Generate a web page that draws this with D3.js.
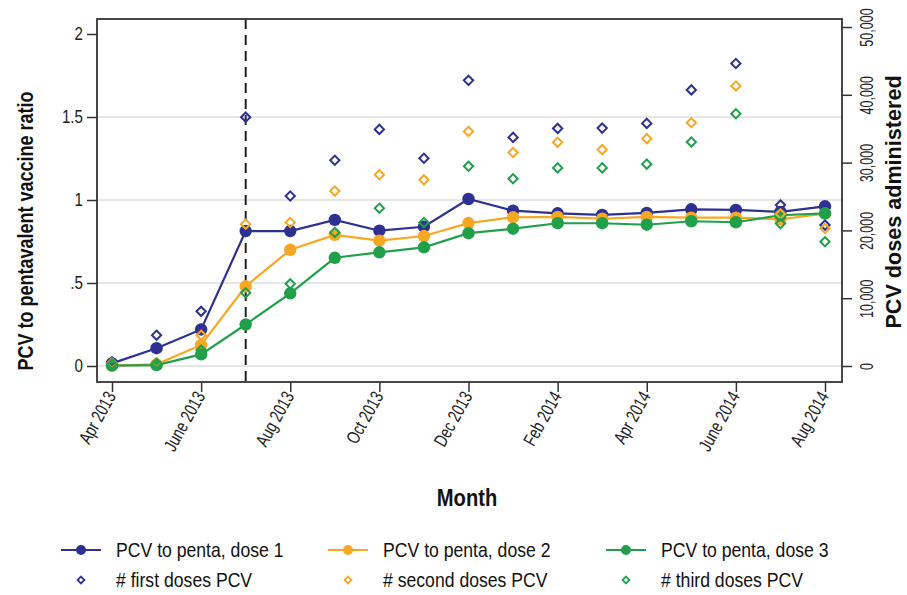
<!DOCTYPE html>
<html><head><meta charset="utf-8">
<script src="https://cdn.jsdelivr.net/npm/d3@7/dist/d3.min.js"></script>
<style>
html,body{margin:0;padding:0;background:#fff;}
svg{display:block;font-family:"Liberation Sans",Arial,"DejaVu Sans",sans-serif;}
</style></head>
<body><svg id="c" width="907" height="595"></svg>
<script>
const months = ["Apr 2013","May 2013","June 2013","Jul 2013","Aug 2013","Sep 2013","Oct 2013","Nov 2013","Dec 2013","Jan 2014","Feb 2014","Mar 2014","Apr 2014","May 2014","June 2014","Jul 2014","Aug 2014"];
const tickMonths = ["Apr 2013","June 2013","Aug 2013","Oct 2013","Dec 2013","Feb 2014","Apr 2014","June 2014","Aug 2014"];
const ratioDose1 = [0.016,0.107,0.22,0.813,0.813,0.88,0.815,0.839,1.006,0.936,0.92,0.91,0.922,0.944,0.94,0.928,0.962];
const ratioDose2 = [0.003,0.01,0.127,0.48,0.70,0.79,0.755,0.783,0.861,0.896,0.898,0.887,0.898,0.894,0.894,0.884,0.918];
const ratioDose3 = [0.002,0.005,0.07,0.25,0.438,0.652,0.685,0.715,0.80,0.827,0.86,0.86,0.851,0.872,0.866,0.908,0.92];
const firstDoses = [630,4545,8065,36700,25070,30350,34900,30645,42130,33720,35040,35090,35780,40720,44620,23750,20780];
const secondDoses = [440,500,4545,20920,21160,25800,28200,27460,34600,31480,32990,31920,33530,35880,41300,22430,20280];
const thirdDoses = [300,400,2350,10800,12130,19700,23270,21160,29470,27610,29220,29220,29770,33040,37200,21000,18330];
const leftTicks = [0,0.5,1,1.5,2];
const leftTickLabels = ["0",".5","1","1.5","2"];
const rightTicks = [0,10000,20000,30000,40000,50000];
const introMonth = "Jul 2013";

const colors = {d1:"#2e3192", d2:"#f7a823", d3:"#21a04c"};
const svg = d3.select("#c");
const L = 97, R = 842, T = 19, B = 382;

const x = d3.scalePoint().domain(months).range([112, 825]);
const yL = d3.scaleLinear().domain([0,2]).range([366, 34]);
const yR = d3.scaleLinear().domain([0,50000]).range([366, 27]);

// gridlines
svg.append("g").selectAll("line").data(leftTicks.filter(d=>d<2)).join("line")
  .attr("x1",L).attr("x2",R).attr("y1",d=>yL(d)).attr("y2",d=>yL(d))
  .attr("stroke","#dedede").attr("stroke-width",1.5);

// dashed vertical line
svg.append("line").attr("x1",x(introMonth)).attr("x2",x(introMonth)).attr("y1",T).attr("y2",B)
  .attr("stroke","#222").attr("stroke-width",2).attr("stroke-dasharray","10,6");

// axes
const axL = svg.append("g").attr("transform",`translate(${L},0)`)
  .call(d3.axisLeft(yL).tickValues(leftTicks).tickFormat((d,i)=>leftTickLabels[i]).tickSize(10).tickPadding(4));
const axR = svg.append("g").attr("transform",`translate(${R},0)`)
  .call(d3.axisRight(yR).tickValues(rightTicks).tickFormat(d3.format(",")).tickSize(10).tickPadding(4));
const axB = svg.append("g").attr("transform",`translate(0,${B})`)
  .call(d3.axisBottom(x).tickValues(tickMonths).tickSize(10).tickPadding(4));
[axL,axR,axB].forEach(g=>{
  g.select(".domain").remove();
  g.selectAll(".tick line").attr("stroke","#333").attr("stroke-width",1.5);
  g.selectAll("text").attr("fill","#222").style("font-size","18.5px").style("font-family","inherit");
});
axL.selectAll("text").attr("x",0).attr("transform","translate(-14,0) scale(0.82,1)");
axR.selectAll("text").attr("x",0).attr("y",25).attr("dy","0.35em").attr("text-anchor","middle")
  .attr("transform","rotate(-90) scale(0.68,1)");
axB.selectAll("text").attr("text-anchor","end").attr("dy","0").attr("y",0).attr("x",0)
  .attr("transform","translate(4,14) rotate(-61) scale(0.75,1)");

// frame
svg.append("rect").attr("x",L).attr("y",T).attr("width",R-L).attr("height",B-T)
  .attr("fill","none").attr("stroke","#333").attr("stroke-width",1.8);

// axis titles
svg.append("text").attr("transform",`translate(33,231) rotate(-90) scale(0.8,1)`)
  .attr("text-anchor","middle").style("font-size","22.5px").style("font-weight","bold").attr("fill","#111")
  .text("PCV to pentavalent vaccine ratio");
svg.append("text").attr("transform",`translate(901,202) rotate(-90) scale(0.96,1)`)
  .attr("text-anchor","middle").style("font-size","22.5px").style("font-weight","bold").attr("fill","#111")
  .text("PCV doses administered");
svg.append("text").attr("transform","translate(467,506) scale(0.84,1)").attr("text-anchor","middle")
  .style("font-size","24px").style("font-weight","bold").attr("fill","#111").text("Month");

// series
const lineSeries = [
  {vals:ratioDose1,c:colors.d1},
  {vals:ratioDose2,c:colors.d2},
  {vals:ratioDose3,c:colors.d3}
];
const line = d3.line().x((d,i)=>x(months[i])).y(d=>yL(d));
lineSeries.forEach(s=>{
  svg.append("path").datum(s.vals).attr("d",line).attr("fill","none").attr("stroke",s.c).attr("stroke-width",2.2);
  svg.append("g").selectAll("circle").data(s.vals).join("circle")
    .attr("cx",(d,i)=>x(months[i])).attr("cy",d=>yL(d)).attr("r",6.2).attr("fill",s.c);
});
const diamond = d3.symbol().type(d3.symbolDiamond2).size(55);
const doseSeries = [
  {vals:firstDoses,c:colors.d1},
  {vals:secondDoses,c:colors.d2},
  {vals:thirdDoses,c:colors.d3}
];
doseSeries.forEach(s=>{
  svg.append("g").selectAll("path").data(s.vals).join("path")
    .attr("d",diamond).attr("transform",(d,i)=>`translate(${x(months[i])},${yR(d)})`)
    .attr("fill","none").attr("stroke",s.c).attr("stroke-width",2);
});

// legend
const legendItems = [
  {label:"PCV to penta, dose 1",c:colors.d1,type:"line",col:0,row:0},
  {label:"PCV to penta, dose 2",c:colors.d2,type:"line",col:1,row:0},
  {label:"PCV to penta, dose 3",c:colors.d3,type:"line",col:2,row:0},
  {label:"# first doses PCV",c:colors.d1,type:"diamond",col:0,row:1},
  {label:"# second doses PCV",c:colors.d2,type:"diamond",col:1,row:1},
  {label:"# third doses PCV",c:colors.d3,type:"diamond",col:2,row:1}
];
const colX = [61,328,606], rowY = [550,580];
legendItems.forEach(it=>{
  const g = svg.append("g").attr("transform",`translate(${colX[it.col]},${rowY[it.row]})`);
  if(it.type==="line"){
    g.append("line").attr("x1",0).attr("x2",40).attr("y1",0).attr("y2",0).attr("stroke",it.c).attr("stroke-width",2.2);
    g.append("circle").attr("cx",20).attr("cy",0).attr("r",5).attr("fill",it.c);
  } else {
    g.append("path").attr("d",d3.symbol().type(d3.symbolDiamond2).size(30)).attr("transform","translate(20,0)")
      .attr("fill","none").attr("stroke",it.c).attr("stroke-width",1.8);
  }
  g.append("text").attr("x",0).attr("y",0).attr("dy","0.35em").attr("transform","translate(55,0) scale(0.86,1)")
    .style("font-size","20.5px").attr("fill","#111").text(it.label);
});
</script></body></html>
